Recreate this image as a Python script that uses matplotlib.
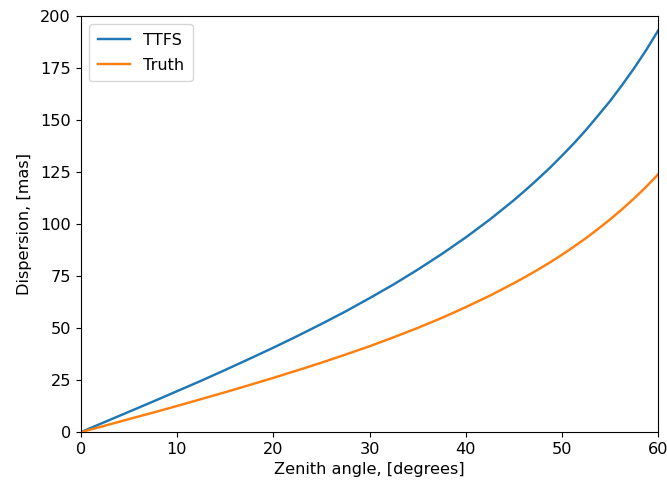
import numpy as np
import matplotlib
matplotlib.use("Agg")
import matplotlib.pyplot as plt

plt.rcParams["font.size"] = 11.6

# zenith angle samples (degrees)
zenith = [0, 2.5, 5, 7.5, 10, 12.5, 15, 17.5, 20, 22.5, 25, 27.5, 30,
          32.5, 35, 37.5, 40, 42.5, 45, 46.25, 47.5, 48.75, 50, 51.25,
          52.5, 53.75, 55, 56.25, 57.5, 58.75, 60]

# dispersion values in mas
ttfs = [0.0, 4.9, 9.8, 14.7, 19.7, 24.7, 29.9, 35.2, 40.6, 46.2, 52.0, 58.0, 64.4,
        71.0, 78.1, 85.6, 93.6, 102.2, 111.5, 116.5, 121.7, 127.1, 132.9, 138.9,
        145.3, 152.2, 159.2, 166.9, 175.0, 183.7, 193.1]
truth = [0.0, 3.1, 6.3, 9.4, 12.6, 15.9, 19.2, 22.6, 26.1, 29.7, 33.4, 37.3, 41.3,
         45.6, 50.1, 54.9, 60.1, 65.6, 71.6, 74.8, 78.1, 81.6, 85.3, 89.2,
         93.3, 97.7, 102.3, 107.2, 112.4, 118.0, 124.0]

fig = plt.figure(figsize=(6.67, 4.84), dpi=100)
ax = fig.add_axes([0.121, 0.107, 0.866, 0.860])

ax.plot(zenith, ttfs, label="TTFS", linewidth=1.75)
ax.plot(zenith, truth, label="Truth", linewidth=1.75)

ax.set_xlim(0, 60)
ax.set_ylim(0, 200)
ax.set_xlabel("Zenith angle, [degrees]")
ax.set_ylabel("Dispersion, [mas]", labelpad=6)
ax.legend(loc="upper left", labelspacing=0.6, borderpad=0.55)

fig.savefig("out.png", dpi=100)
